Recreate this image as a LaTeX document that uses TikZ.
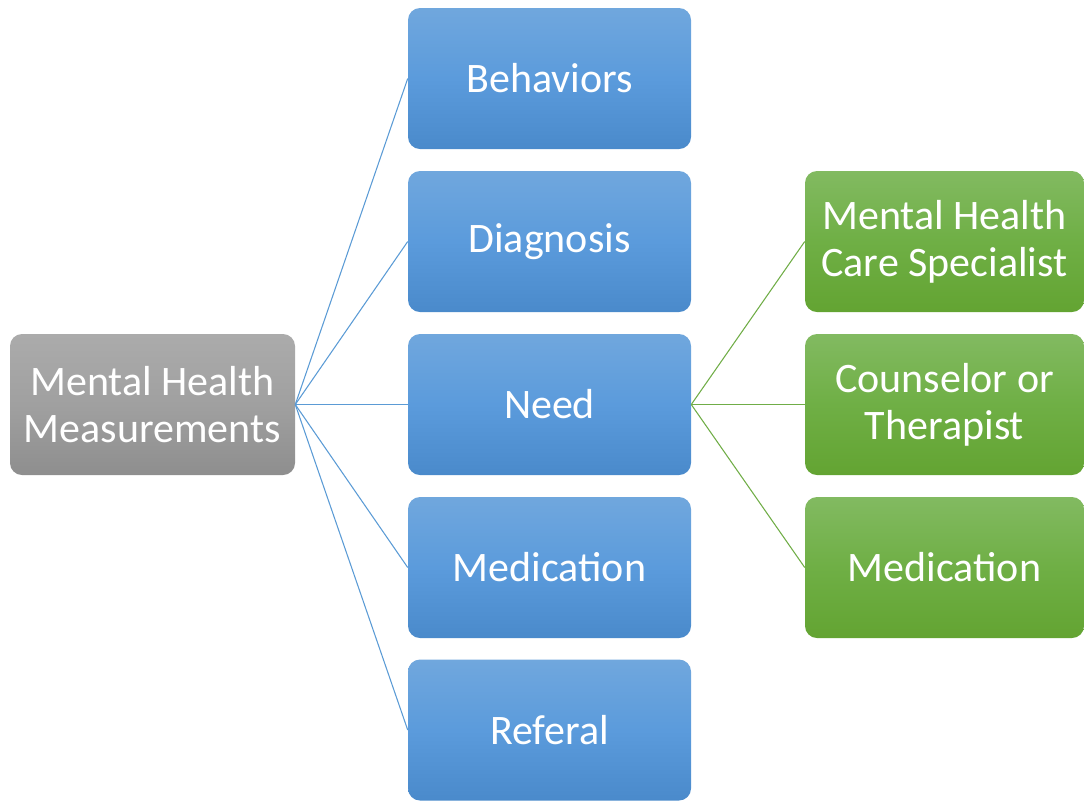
\documentclass[tikz,border=0pt]{standalone}
\usepackage{fontspec}
\setmainfont{Carlito}
\definecolor{bluetop}{HTML}{70A7DD}
\definecolor{bluemid}{HTML}{5B9BDC}
\definecolor{bluebot}{HTML}{4A8ACB}
\definecolor{graytop}{HTML}{ABABAB}
\definecolor{graymid}{HTML}{A0A0A0}
\definecolor{graybot}{HTML}{8E8E8E}
\definecolor{greentop}{HTML}{82BA61}
\definecolor{greenmid}{HTML}{6FAF45}
\definecolor{greenbot}{HTML}{63A432}
\definecolor{blueline}{HTML}{5B9BD5}
\definecolor{greenline}{HTML}{70AD47}
\begin{document}
\begin{tikzpicture}[x=0.75pt,y=-0.75pt,
  box/.style={rectangle,rounded corners=9pt,minimum height=105.75pt,inner sep=0pt,
    align=center,text=white,font=\fontsize{31.5}{35}\selectfont},
  graybox/.style={box,minimum width=213.75pt,top color=graytop,bottom color=graybot,middle color=graymid},
  bluebox/.style={box,minimum width=212.25pt,top color=bluetop,bottom color=bluebot,middle color=bluemid},
  greenbox/.style={box,minimum width=209.25pt,top color=greentop,bottom color=greenbot,middle color=greenmid},
  bline/.style={draw=blueline,line width=0.8pt},
  gline/.style={draw=greenline,line width=0.8pt}]
\useasboundingbox (0,0) rectangle (1084,801);
\node[graybox] (root) at (152.5,404.5) {Mental Health\\Measurements};
\node[bluebox] (b1) at (549.5,78.5) {Behaviors};
\node[bluebox] (b2) at (549.5,241.5) {Diagnosis};
\node[bluebox] (b3) at (549.5,404.5) {Need};
\node[bluebox] (b4) at (549.5,567.5) {Medication};
\node[bluebox] (b5) at (549.5,730) {Referal};
\node[greenbox] (g1) at (944.5,241.5) {Mental Health\\Care Specialist};
\node[greenbox] (g2) at (944.5,404.5) {Counselor or\\Therapist};
\node[greenbox] (g3) at (944.5,567.5) {Medication};
\foreach \b in {b1,b2,b3,b4,b5} \draw[bline] (root.east) -- (\b.west);
\foreach \g in {g1,g2,g3} \draw[gline] (b3.east) -- (\g.west);
\end{tikzpicture}
\end{document}
